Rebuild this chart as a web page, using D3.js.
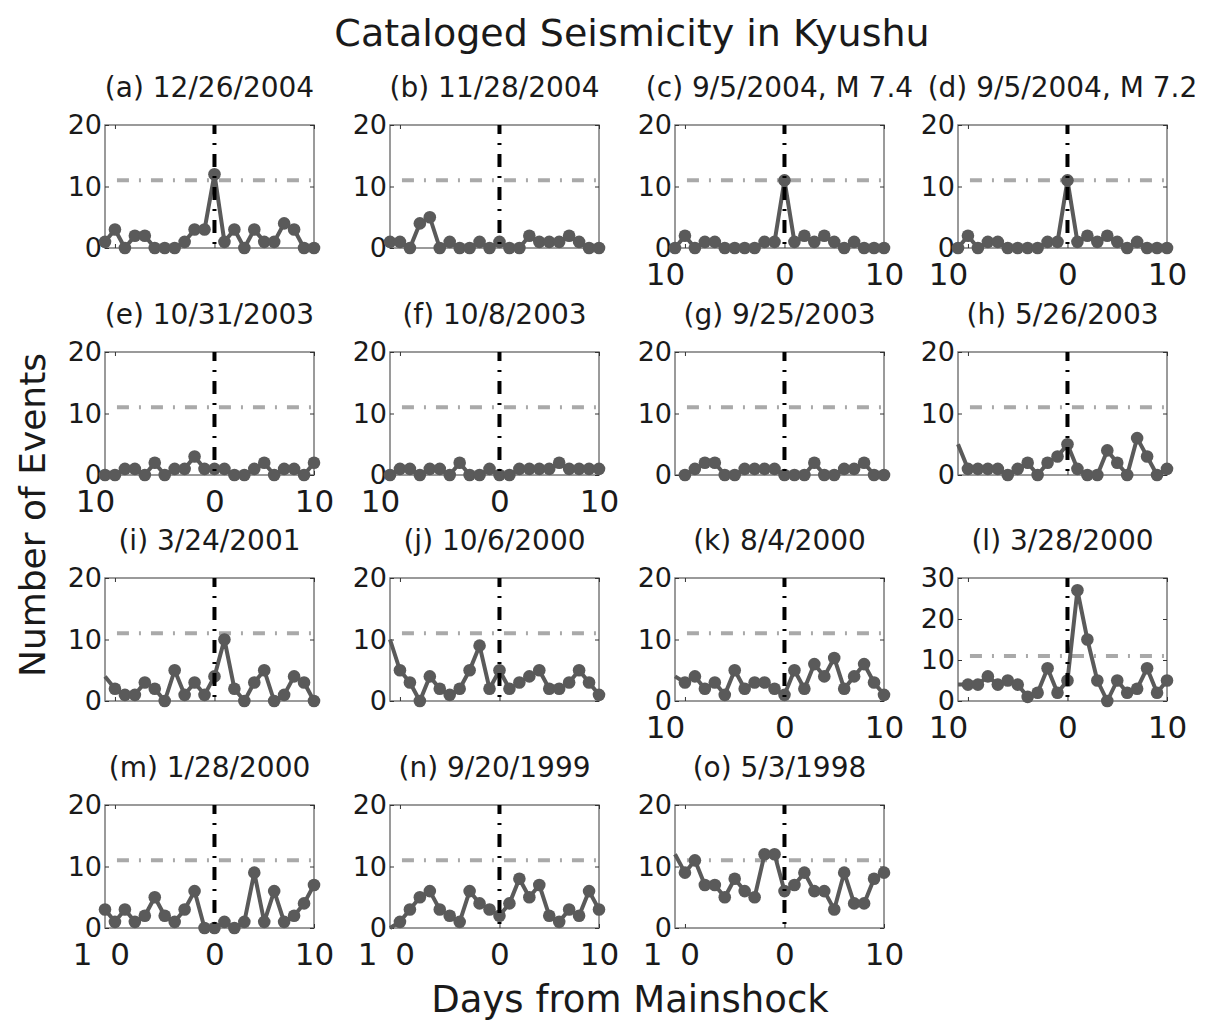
<!DOCTYPE html>
<html>
<head>
<meta charset="utf-8">
<script src="https://cdn.jsdelivr.net/npm/d3@7"></script>
<style>
  body { margin: 0; background: #fff; }
  svg text { font-family: "DejaVu Sans", sans-serif; fill: #1a1a1a; }
</style>
</head>
<body>
<div id="chart"></div>
<script>
// days relative to the mainshock, one count per day
var days = d3.range(-11, 11);

var titles = ["(a) 12/26/2004", "(b) 11/28/2004", "(c) 9/5/2004, M 7.4", "(d) 9/5/2004, M 7.2",
              "(e) 10/31/2003", "(f) 10/8/2003", "(g) 9/25/2003", "(h) 5/26/2003",
              "(i) 3/24/2001", "(j) 10/6/2000", "(k) 8/4/2000", "(l) 3/28/2000",
              "(m) 1/28/2000", "(n) 9/20/1999", "(o) 5/3/1998"];

var evA = [1,3,0,2,2,0,0,0,1,3,3,12,1,3,0,3,1,1,4,3,0,0];
var evB = [1,1,0,4,5,0,1,0,0,1,0,1,0,0,2,1,1,1,2,1,0,0];
var evC = [0,2,0,1,1,0,0,0,0,1,1,11,1,2,1,2,1,0,1,0,0,0];
var evD = [0,2,0,1,1,0,0,0,0,1,1,11,1,2,1,2,1,0,1,0,0,0];
var evE = [0,0,1,1,0,2,0,1,1,3,1,1,1,0,0,1,2,0,1,1,0,2];
var evF = [0,1,1,0,1,1,0,2,0,0,1,0,0,1,1,1,1,2,1,1,1,1];
var evG = [null,0,1,2,2,0,0,1,1,1,1,0,0,0,2,0,0,1,1,2,0,0];
var evH = [5,1,1,1,1,0,1,2,0,2,3,5,1,0,0,4,2,0,6,3,0,1];
var evI = [4,2,1,1,3,2,0,5,1,3,1,4,10,2,0,3,5,0,1,4,3,0];
var evJ = [10,5,3,0,4,2,1,2,5,9,2,5,2,3,4,5,2,2,3,5,3,1];
var evK = [4,3,4,2,3,1,5,2,3,3,2,1,5,2,6,4,7,2,4,6,3,1];
var evL = [4,4,4,6,4,5,4,1,2,8,2,5,27,15,5,0,5,2,3,8,2,5];
var evM = [3,1,3,1,2,5,2,1,3,6,0,0,1,0,1,9,1,6,1,2,4,7];
var evN = [0,1,3,5,6,3,2,1,6,4,3,2,4,8,5,7,2,1,3,2,6,3];
var evO = [12,9,11,7,7,5,8,6,5,12,12,6,7,9,6,6,3,9,4,4,8,9];
var series = [evA, evB, evC, evD, evE, evF, evG, evH, evI, evJ, evK, evL, evM, evN, evO];

var yMax = [20,20,20,20, 20,20,20,20, 20,20,20,30, 20,20,20];
var markFrom = [0,0,0,0, 0,0,0,1, 1,1,1,1, 0,1,1];   // first day drawn with a marker
var xLabelled = [0,0,1,1, 1,1,0,0, 0,0,1,1, 1,1,1];
var threshold = 11;
var xTicks = [-10, 0, 10];

var colX = [105, 390, 675, 958], rowY = [125, 352, 578, 805];
var boxW = 209, boxH = 123;
var grey = "#5a5a5a";

var svg = d3.select("#chart").append("svg").attr("width", 1212).attr("height", 1025);

svg.append("text").attr("x", 632).attr("y", 46).attr("text-anchor", "middle")
  .style("font-size", "38px").text("Cataloged Seismicity in Kyushu");
svg.append("text").attr("transform", "translate(45,515) rotate(-90)").attr("text-anchor", "middle")
  .style("font-size", "36px").text("Number of Events");
svg.append("text").attr("x", 630).attr("y", 1012).attr("text-anchor", "middle")
  .style("font-size", "37px").text("Days from Mainshock");

series.forEach(function(vals, i) {
  var left = colX[i % 4], top = rowY[Math.floor(i / 4)];
  var x = d3.scaleLinear().domain([-11, 10]).range([left, left + boxW]);
  var y = d3.scaleLinear().domain([0, yMax[i]]).range([top + boxH, top]);
  var g = svg.append("g");
  var pts = days.map(function(d, k) { return { d: d, v: vals[k], k: k }; });

  g.append("rect").attr("x", left).attr("y", top).attr("width", boxW).attr("height", boxH)
    .style("fill", "#fff").style("stroke", "#7a7a7a").style("stroke-width", 1.5);

  // y axis, ticks pointing inside
  var ya = g.append("g").attr("transform", "translate(" + left + ",0)")
    .call(d3.axisLeft(y).tickValues(d3.range(0, yMax[i] + 1, 10)).tickSizeInner(-4).tickSizeOuter(0).tickPadding(3));
  ya.select(".domain").remove();
  ya.selectAll("line").style("stroke", "#333");
  ya.selectAll("text").style("font-size", "27px").style("fill", "#1a1a1a");

  var yr = g.append("g").attr("transform", "translate(" + (left + boxW) + ",0)")
    .call(d3.axisRight(y).tickValues(d3.range(0, yMax[i] + 1, 10)).tickSizeInner(-4).tickSizeOuter(0).tickFormat(""));
  yr.select(".domain").remove();
  yr.selectAll("line").style("stroke", "#333");

  var lastRow = i >= 12;
  var xa = g.append("g").attr("transform", "translate(0," + (top + boxH) + ")")
    .call(d3.axisBottom(x).tickValues(xTicks).tickSizeInner(-4).tickSizeOuter(0).tickPadding(15)
      .tickFormat(function(t) {
        if (!xLabelled[i]) return "";
        if (t < 0) return lastRow ? "1 0" : "10";
        return String(t);
      }));
  xa.select(".domain").remove();
  xa.selectAll("line").style("stroke", "#333");
  xa.selectAll("text").style("font-size", "31px").style("fill", "#1a1a1a").style("white-space", "pre")
    .attr("dx", function(t) { return t < 0 ? (lastRow ? -12 : -20) : 0; })
    .style("letter-spacing", function(t) { return t < 0 && lastRow ? "4px" : null; });

  var xt = g.append("g").attr("transform", "translate(0," + top + ")")
    .call(d3.axisTop(x).tickValues(xTicks).tickSizeInner(-4).tickSizeOuter(0).tickFormat(""));
  xt.select(".domain").remove();
  xt.selectAll("line").style("stroke", "#333");

  // threshold
  g.append("line").attr("x1", x(-10)).attr("x2", x(10)).attr("y1", y(threshold)).attr("y2", y(threshold))
    .style("stroke", "#a9a9a9").style("stroke-width", 4)
    .style("stroke-dasharray", "12,10,2,10").style("stroke-dashoffset", -2);

  var line = d3.line().defined(function(p) { return p.v != null; })
    .x(function(p) { return x(p.d); }).y(function(p) { return y(p.v); });
  g.append("path").datum(pts).attr("d", line)
    .style("fill", "none").style("stroke", grey).style("stroke-width", 4).style("stroke-linejoin", "round");

  g.selectAll("circle").data(pts.filter(function(p) { return p.v != null && p.k >= markFrom[i]; }))
    .enter().append("circle")
    .attr("cx", function(p) { return x(p.d); }).attr("cy", function(p) { return y(p.v); })
    .attr("r", 6.3).style("fill", grey);

  // mainshock day
  g.append("line").attr("x1", x(0)).attr("x2", x(0)).attr("y1", y(yMax[i])).attr("y2", y(0))
    .style("stroke", "#000").style("stroke-width", 4)
    .style("stroke-dasharray", "13,9,2,9").style("stroke-dashoffset", 4);

  g.append("text").attr("x", left + boxW / 2).attr("y", top - 28).attr("text-anchor", "middle")
    .style("font-size", "28px").text(titles[i]);
});
</script>
</body>
</html>
